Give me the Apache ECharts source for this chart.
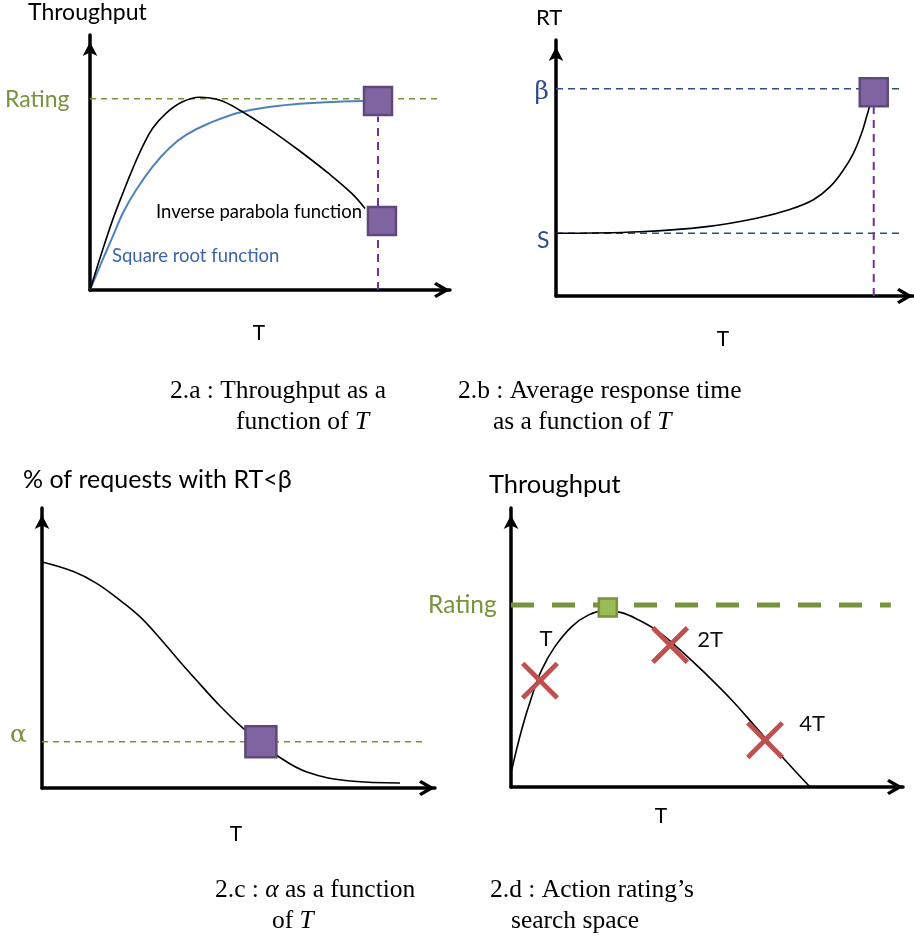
<!DOCTYPE html>
<html>
<head>
<meta charset="utf-8">
<script src="https://cdn.jsdelivr.net/npm/echarts@6/dist/echarts.min.js"></script>
<style>
  html, body { margin: 0; padding: 0; background: #fff; }
  #chart { width: 914px; height: 936px; }
</style>
</head>
<body>
<div id="chart"></div>
<script>
// ---- 2.a : throughput as a function of T (axis units 0..100) ----
const parabolaT    = [0, 3.5, 6.3, 9.1, 11.9, 14.6, 17.4, 21.1, 25.7, 30.4, 35.9, 41.5, 49.5, 57.9, 66.2, 72.7, 76.4];
const parabolaThr  = [0, 15.7, 27.5, 37.9, 47.7, 56.2, 63.4, 69.3, 73.8, 75.6, 74.5, 70.6, 63.4, 54.9, 45.8, 37.9, 32];
const sqrtT        = [0, 3.5, 6.3, 9.1, 12.8, 17.4, 22, 26.7, 33.1, 42.4, 54.2, 65.3, 75.9];
const sqrtThr      = [0, 11.8, 20.9, 30.1, 39.2, 48.4, 55.6, 60.8, 65.4, 69.9, 72.5, 73.6, 74.1];
const ratingA      = 75;
const limitTA      = 80;
const limitMarksA  = [[80, 74.1], [81.1, 27.1]];

// ---- 2.b : average response time as a function of T ----
const rtT          = [0, 23.5, 42.2, 56.2, 65.5, 72.1, 76.8, 80.5, 83.3, 85.6, 87, 87.8];
const rtVals       = [24.5, 25.1, 27.1, 30.4, 33.8, 37.6, 42.7, 49.2, 55.7, 63.6, 70, 73.9];
const betaLevel    = 81;
const sLevel       = 24.5;
const limitTB      = 89;
const limitMarkB   = [89, 79.6];

// ---- 2.c : share of requests with RT < beta ----
const pctT         = [0, 8, 13.9, 19.8, 24.9, 30, 35.1, 40.2, 45.3, 51.2, 55.7, 59.8, 67.4, 78.4, 91.1];
const pctVals      = [80.7, 77.3, 73.1, 67.1, 61.2, 53.5, 45.1, 37.1, 29.3, 21.3, 16.5, 11.6, 5.7, 2.5, 1.8];
const alphaLevel   = 16.5;
const alphaMark    = [55.7, 16.5];

// ---- 2.d : action rating search space ----
const searchT      = [0, 2.7, 5.3, 7.8, 11.2, 15.5, 19.7, 24, 28.2, 32.5, 37.6, 42.7, 49.5, 56.3, 63.1, 69.9, 76.3];
const searchThr    = [5, 20.4, 32.4, 41.9, 50.3, 57.5, 61.6, 63.2, 62.5, 59.9, 55.7, 49.7, 40.8, 31.2, 20.4, 9.7, 0];
const ratingD      = 65.2;
const peakMark     = [24.7, 64.3];
const probeT       = [7.4, 40.6, 64.8];
const probeThr     = [38.1, 50.9, 16.8];
const probeNames   = ['T', '2T', '4T'];

// ---- text ----
const captions = [
  ['2.a : Throughput as a', '{n|function of }{i|T}'],
  ['2.b : Average response time', '{n|as a function of }{i|T}'],
  ['{n|2.c : }{i|\u03b1}{n| as a function}', '{n|of }{i|T}'],
  ['2.d : Action rating\u2019s', 'search space']
];

const SANS  = 'Lato, "Noto Sans", sans-serif';
const SERIF = '"Liberation Serif", "DejaVu Serif", serif';
const GREEK = '"DejaVu Serif", "Noto Sans", serif';
const GREEN = '#77933C';
const NAVY  = '#2F4B8C';
const BLUE_TXT = '#3B64AD';
const PURPLE = '#7030A0';

const grids = [
  { left: 90,  top: 35,  width: 360, height: 255 },
  { left: 556, top: 40,  width: 357, height: 256 },
  { left: 42,  top: 508, width: 393, height: 280 },
  { left: 511, top: 508, width: 392, height: 279 }
];

const chevron = 'path://M8,0 L16,14 L13.5,16 L8,7 L2.5,16 L0,14 Z';
const cross = 'path://M0,1.8 L1.8,0 L10,8.2 L18.2,0 L20,1.8 L11.8,10 L20,18.2 L18.2,20 L10,11.8 L1.8,20 L0,18.2 L8.2,10 Z';

function axis(i, isX) {
  return {
    type: 'value', gridIndex: i, min: 0, max: 100,
    axisLine: {
      show: true, onZero: false,
      lineStyle: { color: '#000', width: 3.5 },
      symbol: ['none', isX ? chevron : 'arrow'],
      symbolSize: isX ? [16, 16] : [11, 14],
      symbolOffset: [0, isX ? -8 : -7]
    },
    axisTick: { show: false },
    axisLabel: { show: false },
    splitLine: { show: false }
  };
}

function pairs(xs, ys) { return xs.map((x, k) => [x, ys[k]]); }

function curve(i, xs, ys, color, width) {
  return {
    type: 'line', xAxisIndex: i, yAxisIndex: i, data: pairs(xs, ys),
    smooth: 0.4, symbol: 'none', silent: true, z: 3,
    lineStyle: { color: color, width: width }
  };
}

function guide(i, data, color, width, dash) {
  return {
    type: 'line', xAxisIndex: i, yAxisIndex: i, data: data,
    symbol: 'none', silent: true, z: 2,
    lineStyle: { color: color, width: width, type: dash }
  };
}

function squares(i, data, size, fill, border) {
  return {
    type: 'scatter', xAxisIndex: i, yAxisIndex: i, data: data,
    symbol: 'rect', symbolSize: size, silent: true, z: 5,
    itemStyle: { color: fill, borderColor: border, borderWidth: 2.5, opacity: 1 }
  };
}

const labelOffsets = [[6, -42], [40, -5], [47, -16]];

const series = [
  // 2.a
  guide(0, [[0, ratingA], [97.2, ratingA]], GREEN, 1.5, [6, 5]),
  guide(0, [[limitTA, 0], [limitTA, 68]], PURPLE, 2, [8, 6]),
  curve(0, sqrtT, sqrtThr, '#4F81BD', 2),
  curve(0, parabolaT, parabolaThr, '#000', 1.6),
  squares(0, limitMarksA, 28, '#8064A2', '#5F497A'),
  // 2.b
  guide(1, [[0, betaLevel], [96.9, betaLevel]], NAVY, 1.5, [7, 5]),
  guide(1, [[0, sLevel], [96.9, sLevel]], NAVY, 1.5, [7, 5]),
  guide(1, [[limitTB, 0], [limitTB, 74]], PURPLE, 2, [8, 6]),
  curve(1, rtT, rtVals, '#000', 1.6),
  squares(1, [limitMarkB], 28, '#8064A2', '#5F497A'),
  // 2.c
  guide(2, [[0, alphaLevel], [98, alphaLevel]], GREEN, 1.5, [6, 5]),
  curve(2, pctT, pctVals, '#000', 1.6),
  squares(2, [alphaMark], 31, '#8064A2', '#5F497A'),
  // 2.d
  guide(3, [[0, ratingD], [96.9, ratingD]], GREEN, 5, [23, 18]),
  curve(3, searchT, searchThr, '#000', 1.6),
  squares(3, [peakMark], 18, '#9BBB59', GREEN),
  {
    type: 'scatter', xAxisIndex: 3, yAxisIndex: 3, silent: true, z: 6,
    symbol: cross, symbolSize: 38,
    itemStyle: { color: '#C0504D', opacity: 1 },
    data: probeT.map((t, k) => ({
      value: [t, probeThr[k]],
      label: {
        show: true, position: 'inside', offset: labelOffsets[k],
        formatter: probeNames[k], color: '#111',
        fontFamily: SANS, fontSize: 22
      }
    }))
  }
];

function txt(str, x, y, size, color, align, family) {
  return {
    type: 'text', x: x, y: y, silent: true, z: 10,
    style: {
      text: str, font: size + 'px ' + (family || SANS), fill: color || '#000',
      align: align || 'left', textAlign: align || 'left',
      verticalAlign: 'middle', textVerticalAlign: 'middle'
    }
  };
}

function caption(lines, x1, x2, y) {
  const rich = {
    n: { fontFamily: SERIF, fontSize: 25.5, color: '#000' },
    i: { fontFamily: SERIF, fontSize: 25.5, fontStyle: 'italic', color: '#000' }
  };
  return [lines[0], lines[1]].map((s, k) => ({
    type: 'text', x: k ? x2 : x1, y: y + k * 31, silent: true, z: 10,
    style: {
      text: s.indexOf('{') === 0 ? s : '{n|' + s + '}', rich: rich,
      align: 'left', textAlign: 'left', verticalAlign: 'middle', textVerticalAlign: 'middle'
    }
  }));
}

const graphic = [
  // 2.a
  txt('Throughput', 28, 13, 23),
  txt('Rating', 5, 100, 23, GREEN),
  txt('Inverse parabola function', 156, 212, 18.5),
  txt('Square root function', 112, 256, 18.5, BLUE_TXT),
  txt('T', 259, 333, 21, '#000', 'center'),
  // 2.b
  txt('RT', 536, 18, 22),
  txt('\u03b2', 549, 92, 25, NAVY, 'right', GREEK),
  txt('S', 537, 241, 23, NAVY),
  txt('T', 723, 339, 21, '#000', 'center'),
  // 2.c
  txt('% of requests with RT<\u03b2', 23, 480, 25),
  txt('\u03b1', 10, 735, 25, GREEN, 'left', GREEK),
  txt('T', 236, 834, 21, '#000', 'center'),
  // 2.d
  txt('Throughput', 489, 485, 25.5),
  txt('Rating', 428, 605, 24.5, GREEN),
  txt('T', 661, 816, 21, '#000', 'center')
].concat(
  caption(captions[0], 170, 236, 391),
  caption(captions[1], 458, 493, 391),
  caption(captions[2], 215, 272, 890),
  caption(captions[3], 490, 511, 890)
);

const chart = echarts.init(document.getElementById('chart'), null, { renderer: 'canvas' });
chart.setOption({
  animation: false,
  backgroundColor: '#fff',
  grid: grids,
  xAxis: grids.map((g, i) => axis(i, true)),
  yAxis: grids.map((g, i) => axis(i, false)),
  series: series,
  graphic: graphic
});
</script>
</body>
</html>
